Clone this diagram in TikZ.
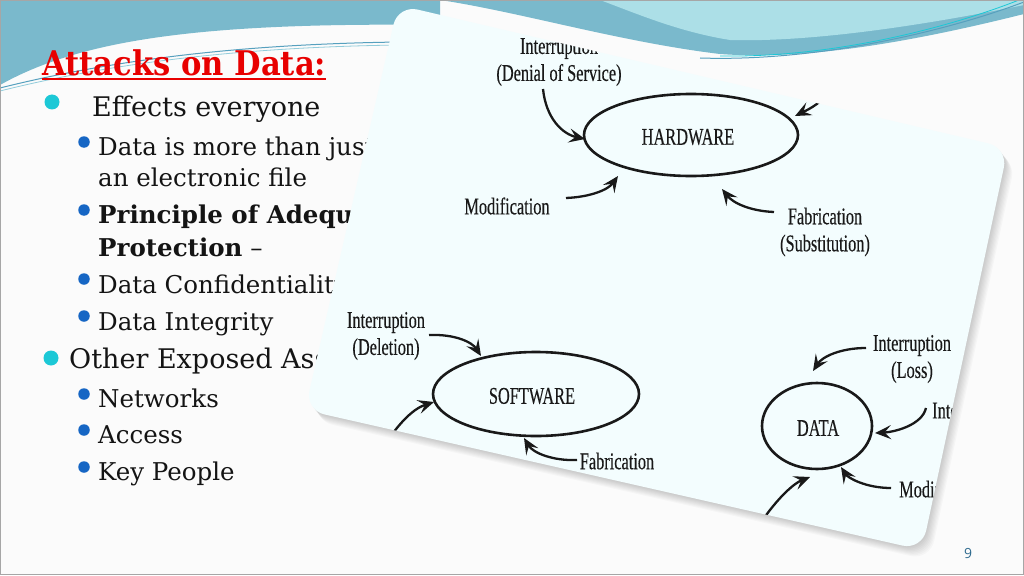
\documentclass[tikz,border=0pt]{standalone}
\usepackage{fontspec}
\setmainfont{DejaVu Serif}
\newfontfamily\titlefont[FakeStretch=0.9]{DejaVu Serif Bold}
\newfontfamily\diagfont[FakeStretch=0.68,FakeBold=0.3]{Liberation Serif}
\newfontfamily\numfont{Open Sans}
\usetikzlibrary{shapes.geometric,arrows.meta}
\definecolor{swblue}{RGB}{122,185,204}
\definecolor{swlight}{RGB}{172,223,231}
\definecolor{swdark}{RGB}{86,160,190}
\definecolor{titlered}{RGB}{232,0,0}
\definecolor{dotcyan}{RGB}{28,200,214}
\definecolor{dotblue}{RGB}{22,102,196}
\definecolor{cardfill}{RGB}{243,253,254}
\definecolor{numblue}{RGB}{46,106,142}
\tikzset{
  lvlone/.style={anchor=base west, inner sep=0pt, text=black!92, font=\fontsize{27}{27}\selectfont},
  lvltwo/.style={anchor=base west, inner sep=0pt, text=black!92, font=\fontsize{24.5}{24.5}\selectfont},
  cyandot/.style={circle, fill=dotcyan, inner sep=0pt, minimum size=15pt},
  bluedot/.style={circle, fill=dotblue, inner sep=0pt, minimum size=11.5pt},
  asset/.style={ellipse, draw=black!90, line width=2.6pt, inner sep=0pt},
  lbl/.style={align=center, inner sep=0pt, text=black!90, font=\diagfont\fontsize{24}{27}\selectfont},
  attack/.style={line width=2.3pt, draw=black!90, -{Stealth[length=16pt,width=14pt,inset=6.5pt]}},
  cardshape/.style={rounded corners=20pt},
}
\begin{document}
\begin{tikzpicture}[x=1pt,y=-1pt]
\useasboundingbox (0,0) rectangle (1024,575);
\fill[white!97!gray] (0,0) rectangle (1024,575);
% top-left swoosh
\fill[swblue] (0,0) -- (440,0) -- (440,25) .. controls (200,22) and (80,40) .. (0,85) -- cycle;
\draw[swdark, line width=1pt] (0,88) .. controls (120,58) and (250,44) .. (400,42);
\draw[swlight!70!swdark, line width=0.8pt] (0,91) .. controls (120,61) and (250,47) .. (400,45);
% left text
\node[anchor=base west, inner sep=0pt, text=titlered, font=\titlefont\fontsize{34}{34}\selectfont] (title) at (42,76) {Attacks on Data:};
\draw[titlered, line width=2pt] ([yshift=-3.5pt]title.base west) -- ([yshift=-3.5pt]title.base east);
\node[cyandot] (d1) at (52,102) {};
\node[lvlone] (t1) at (92,117) {Effects everyone};
\node[bluedot] (d2) at (84,142) {};
\node[lvltwo] (t2) at (98,155) {Data is more than just};
\node[lvltwo] (t2b) at (98,186) {an electronic file};
\node[bluedot] (d3) at (84,210) {};
\node[lvltwo] (t3) at (98,223) {\textbf{Principle of Adequate}};
\node[lvltwo] (t3b) at (98,256) {\textbf{Protection} –};
\node[bluedot] (d4) at (84,279) {};
\node[lvltwo] (t4) at (98,293) {Data Confidentiality};
\node[bluedot] (d5) at (84,316) {};
\node[lvltwo] (t5) at (98,330) {Data Integrity};
\node[cyandot] (d6) at (51,358) {};
\node[lvlone] (t6) at (69,368) {Other Exposed Assets};
\node[bluedot] (d7) at (84,394) {};
\node[lvltwo] (t7) at (98,407) {Networks};
\node[bluedot] (d8) at (84,430) {};
\node[lvltwo] (t8) at (98,443) {Access};
\node[bluedot] (d9) at (84,467) {};
\node[lvltwo] (t9) at (98,480) {Key People};
% card shadow
\foreach \i in {1,...,8}{
  \fill[black, opacity=0.024, cardshape, shift={(\i*1.0pt,-\i*1.3pt)}] (398,5) -- (1008,148) -- (922,550) -- (305,410) -- cycle;
}
\fill[cardfill, cardshape] (398,5) -- (1008,148) -- (922,550) -- (305,410) -- cycle;
\begin{scope}
\clip[cardshape] (398,5) -- (1008,148) -- (922,550) -- (305,410) -- cycle;
% assets
\node[asset, minimum width=214pt, minimum height=82pt] (hw) at (691,135) {};
\node[lbl] (hwt) at (688,137) {HARDWARE};
\node[asset, minimum width=206pt, minimum height=84pt] (sw) at (536,394) {};
\node[lbl] (swt) at (532,396) {SOFTWARE};
\node[asset, minimum width=110pt, minimum height=86pt] (da) at (817,426) {};
\node[lbl] (dat) at (818,428) {DATA};
% labels
\node[lbl] (dos) at (559,62) {Interruption\\(Denial of Service)};
\node[lbl] (hmod) at (507,206) {Modification};
\node[lbl] (hfab) at (825,232) {Fabrication\\(Substitution)};
\node[lbl] (del) at (386,336) {Interruption\\(Deletion)};
\node[lbl] (sfab) at (617,461) {Fabrication};
\node[lbl] (loss) at (912,359) {Interruption\\(Loss)};
\node[lbl, anchor=west] (dint) at (932,413) {Interception};
\node[lbl, anchor=west] (dmod) at (899,489) {Modification};
% connector end points
\coordinate (a1s) at (543,89);  \coordinate (a1e) at (585,139);
\coordinate (a2s) at (832,90);  \coordinate (a2e) at (795,116);
\coordinate (a3s) at (566,198); \coordinate (a3e) at (618,176);
\coordinate (a4s) at (774,212); \coordinate (a4e) at (722,189);
\coordinate (a5s) at (429,335); \coordinate (a5e) at (481,356);
\coordinate (a6s) at (380,452); \coordinate (a6e) at (434,402);
\coordinate (a7s) at (577,460); \coordinate (a7e) at (524,438);
\coordinate (a8s) at (866,348); \coordinate (a8e) at (813,371);
\coordinate (a9s) at (926,408); \coordinate (a9e) at (875,433);
\coordinate (a10s) at (891,488); \coordinate (a10e) at (841,467);
\coordinate (a11s) at (750,540); \coordinate (a11e) at (810,477);
\draw[attack] (a1s) .. controls (546,118) and (562,134) .. (a1e);
\draw[attack] (a2s) .. controls (818,106) and (805,111) .. (a2e);
\draw[attack] (a3s) .. controls (590,197) and (608,190) .. (a3e);
\draw[attack] (a4s) .. controls (750,211) and (733,203) .. (a4e);
\draw[attack] (a5s) .. controls (455,334) and (472,342) .. (a5e);
\draw[attack] (a6s) .. controls (400,420) and (415,408) .. (a6e);
\draw[attack] (a7s) .. controls (553,461) and (533,453) .. (a7e);
\draw[attack] (a8s) .. controls (840,348) and (822,357) .. (a8e);
\draw[attack] (a9s) .. controls (922,425) and (895,432) .. (a9e);
\draw[attack] (a10s) .. controls (866,488) and (848,478) .. (a10e);
\draw[attack] (a11s) .. controls (770,505) and (792,484) .. (a11e);
\end{scope}
% top-right swoosh over card
\fill[swblue] (440,0) -- (1024,0) -- (1024,14) .. controls (900,45) and (800,60) .. (720,54) .. controls (620,42) and (520,12) .. (440,0) -- cycle;
\fill[swlight] (600,0) -- (1024,0) -- (1024,5) .. controls (900,30) and (800,42) .. (730,40) .. controls (680,32) and (640,15) .. (600,0) -- cycle;
\draw[swdark, line width=1pt] (700,58) .. controls (820,62) and (950,30) .. (1024,2);
\draw[dotcyan, line width=0.8pt] (720,56) .. controls (840,58) and (960,24) .. (1024,-2);
% page number
\node[font=\numfont\fontsize{14}{14}\selectfont, text=numblue] (pg) at (968,553) {9};
\draw[gray!70, line width=1pt] (0.5,0.5) rectangle (1023.5,574.5);
\end{tikzpicture}
\end{document}
